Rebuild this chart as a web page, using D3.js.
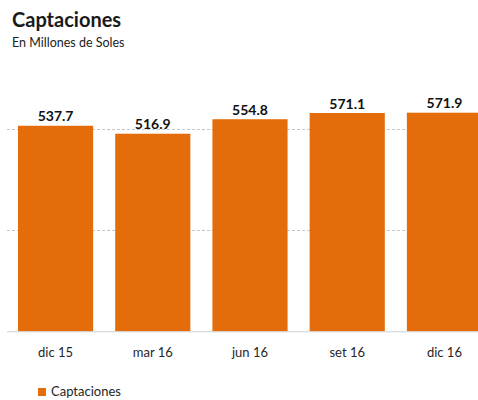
<!DOCTYPE html>
<html>
<head>
<meta charset="utf-8">
<script src="https://cdn.jsdelivr.net/npm/d3@7"></script>
<style>
  html, body { margin: 0; padding: 0; background: #fff; }
  svg { display: block; }
</style>
</head>
<body>
<script>
// Captaciones por trimestre (millones de soles)
const categories = ["dic 15", "mar 16", "jun 16", "set 16", "dic 16"];
const captaciones = [537.7, 516.9, 554.8, 571.1, 571.9];
const gridValues = [265, 530];
const seriesName = "Captaciones";

const W = 478, H = 400;
const orange = "#E46C0A";

const svg = d3.select("body").append("svg")
  .attr("width", W).attr("height", H);

const x = d3.scaleBand()
  .domain(categories)
  .range([7, 493])
  .paddingInner(0.227)
  .paddingOuter(0.113);

const y = d3.scaleLinear()
  .domain([0, 571.9])
  .range([331.3, 112.7]);

// Title block
svg.append("text")
  .attr("x", 12).attr("y", 27)
  .attr("font-family", "Lato")
  .attr("font-weight", "bold")
  .attr("font-size", 20)
  .attr("fill", "#1a1a1a")
  .text("Captaciones");

svg.append("text")
  .attr("x", 12).attr("y", 46.5)
  .attr("font-family", "Lato")
  .attr("font-size", 12.5)
  .attr("fill", "#222")
  .text("En Millones de Soles");

// Dashed gridlines
svg.append("g")
  .selectAll("line")
  .data(gridValues)
  .join("line")
  .attr("x1", 7).attr("x2", W)
  .attr("y1", d => Math.round(y(d)) + 0.5)
  .attr("y2", d => Math.round(y(d)) + 0.5)
  .attr("stroke", "#c8c8c8")
  .attr("stroke-width", 1)
  .attr("stroke-dasharray", "3,2");

// Bars
svg.append("g")
  .selectAll("rect")
  .data(captaciones)
  .join("rect")
  .attr("x", (d, i) => x(categories[i]))
  .attr("width", x.bandwidth())
  .attr("y", d => y(d))
  .attr("height", d => y(0) - y(d))
  .attr("fill", orange);

// Value labels
svg.append("g")
  .selectAll("text")
  .data(captaciones)
  .join("text")
  .attr("x", (d, i) => x(categories[i]) + x.bandwidth() / 2)
  .attr("y", d => y(d) - 4.5)
  .attr("text-anchor", "middle")
  .attr("font-family", "Lato")
  .attr("font-weight", "bold")
  .attr("font-size", 14)
  .attr("fill", "#111")
  .text(d => d.toFixed(1));

// Category axis
const xAxis = svg.append("g")
  .attr("transform", `translate(0,${y(0)})`)
  .call(d3.axisBottom(x).tickSize(0).tickPadding(16));
xAxis.select(".domain")
  .attr("d", `M7,0.5H${W}`)
  .attr("stroke", "#cfcfcf");
xAxis.selectAll("text")
  .attr("font-family", "Lato")
  .attr("font-size", 13)
  .attr("fill", "#262626");

// Legend
const legend = svg.append("g").attr("transform", "translate(38,388)");
legend.append("rect")
  .attr("width", 8).attr("height", 8)
  .attr("fill", orange);
legend.append("text")
  .attr("x", 13).attr("y", 8.3)
  .attr("font-family", "Lato")
  .attr("font-size", 13)
  .attr("fill", "#262626")
  .text(seriesName);
</script>
</body>
</html>
